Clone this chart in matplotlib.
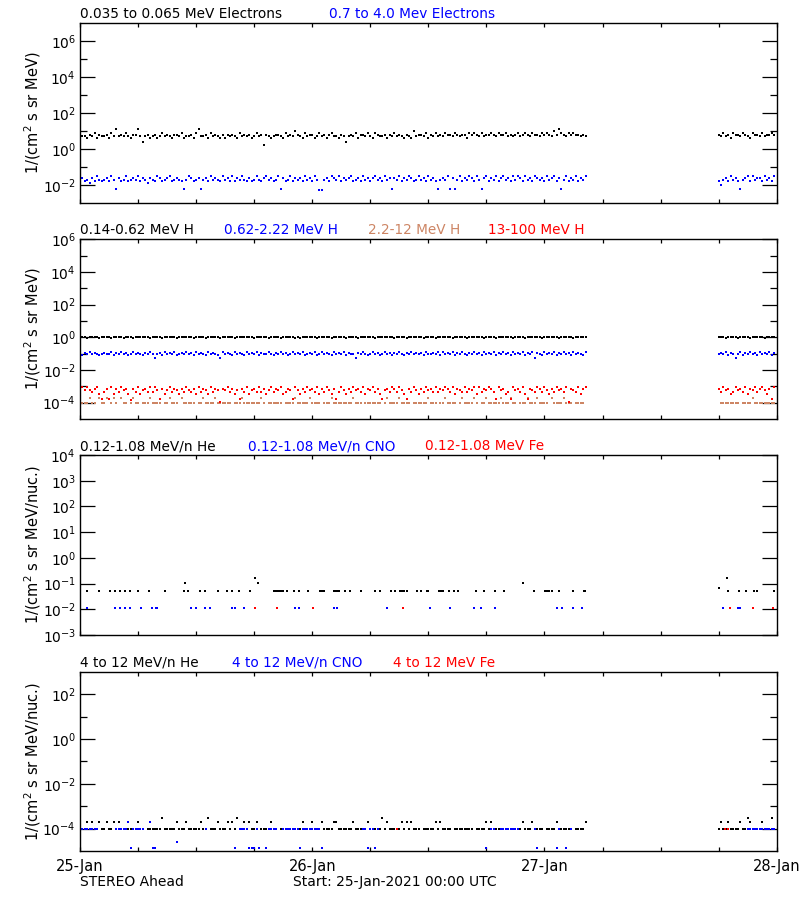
import numpy as np
import matplotlib
matplotlib.use("Agg")
import matplotlib.pyplot as plt
from matplotlib.ticker import FixedLocator, FixedFormatter, NullFormatter

# ---------------- data (hours since 25-Jan-2021 00:00 UTC) ----------------
CADENCE_H = 0.25          # 15-minute samples
SEG1_START_H = 0.0        # first data segment
SEG2_START_H = 66.0       # data resumes after the gap on 27-Jan

# Panel 1 : electrons.  Each digit is a level index into the level table.
e_lo_levels = [1.58, 2.0, 2.5, 3.2, 4.0, 5.0, 6.3, 7.9, 10.0, 12.6]
e_lo_seg1 = ("655465746556475956575466952564"
             "564575654665745564795564756546"
             "465654756564575606545665475658"
             "654756645756467554652565746657"
             "547655646575654654856657465756"
             "576657656647676575667657667565"
             "675676576657676586976576766565")
e_lo_seg2 = "657564766576547665756676"

e_hi_levels = [0.0040, 0.0050, 0.0063, 0.0079, 0.0100, 0.0126, 0.0158, 0.0200, 0.0251, 0.0316]
e_hi_seg1 = ("786758697678697286796787968758"
             "769867896787627986782786978769"
             "786968797686797689786792867968"
             "786978697117869879687896786978"
             "689786978287968798679786978627"
             "879282796879869728968796897869"
             "798697869878697896827968796879")
e_hi_seg2 = "647869786278969788697869"

# Panel 2 : protons
h1_levels = [0.63, 0.69, 0.76, 0.83, 0.91, 1.00, 1.10, 1.20, 1.32, 1.45]
h1_seg1 = ("565455654565546555456545655654"
           "556545655645655564556545565546"
           "556545655565465565455654565564"
           "545655654565554655654565545656"
           "554565565645565455655645565456"
           "565546556545655564565546555654"
           "565545656554565565465565455655")
h1_seg2 = "565455654565546555645655"

h2_levels = [0.056, 0.063, 0.071, 0.079, 0.089, 0.100, 0.112, 0.126, 0.141, 0.158]
h2_seg1 = ("536475643565473657463574653647"
           "504637564735647563746537465307"
           "465374653756473654753657463574"
           "647356473574653746573645064753"
           "574635746365743657464637546573"
           "746573647536475637465736475637"
           "465736470653746573647563746537")
h2_seg2 = "465736405736475637465736"

h3_levels = [np.nan, 1.0e-4, 2.0e-4]            # 0 = no count
h3_seg1 = ("111121102112012102110121101112"
           "111101121110211111011211112111"
           "111011121111111210111111011112"
           "111112111101112111111112111011"
           "111110121111211110111111211101"
           "121111012111121011211111211121"
           "101112111211110211112111011110")
h3_seg2 = "011111111011112111111111"

h4_levels = [1.12e-4, 1.41e-4, 1.78e-4, 2.24e-4, 2.82e-4,
             3.55e-4, 4.47e-4, 5.62e-4, 7.08e-4, 8.91e-4]
h4_seg1 = ("897976895268295869785186957869"
           "697285796875869768596875968708"
           "796857286957869685796879568729"
           "758697869586975826975869786958"
           "796852786986975286975869786968"
           "798695876968795968798629785629"
           "786952876986975869786908769589")
h4_seg2 = "869785697869587968975829"

# Panel 3 : 0.12-1.08 MeV/n heavy ions (sparse counts)
he3_hours = [0.76, 2.0, 3.1, 3.6, 4.1, 4.7, 5.2, 6.0, 7.1, 8.8, 10.7, 10.8, 11.2, 12.4,
             12.9, 14.3, 15.2, 15.7, 16.4, 17.6, 18.1, 18.4, 20.0, 20.2, 20.4, 20.6,
             20.8, 21.0, 21.4, 22.1, 22.6, 23.6, 24.8, 25.0, 25.2, 26.2, 26.4, 26.6,
             26.8, 27.4, 27.9, 29.0, 30.5, 31.0, 32.1, 32.6, 33.1, 33.3, 33.5, 33.8,
             34.8, 35.2, 35.9, 36.0, 37.1, 37.3, 37.5, 38.1, 38.6, 39.1, 40.9, 41.7,
             42.9, 43.8, 45.8, 46.9, 48.1, 48.3, 48.5, 48.8, 49.5, 51.0, 52.1, 52.2,
             66.0, 66.9, 67.0, 68.1, 68.8, 69.7, 70.0, 71.7]
he3_vals = [0.052, 0.052, 0.052, 0.052, 0.052, 0.052, 0.052, 0.052, 0.052, 0.052, 0.052, 0.11, 0.052, 0.052,
            0.052, 0.052, 0.052, 0.052, 0.052, 0.052, 0.16, 0.11, 0.052, 0.052, 0.052, 0.052,
            0.052, 0.052, 0.052, 0.052, 0.052, 0.052, 0.052, 0.052, 0.052, 0.052, 0.052, 0.052,
            0.052, 0.052, 0.052, 0.052, 0.052, 0.052, 0.052, 0.052, 0.052, 0.052, 0.052, 0.052,
            0.052, 0.052, 0.052, 0.052, 0.052, 0.052, 0.052, 0.052, 0.052, 0.052, 0.052, 0.052,
            0.052, 0.052, 0.11, 0.052, 0.052, 0.052, 0.052, 0.052, 0.052, 0.052, 0.052, 0.052,
            0.065, 0.16, 0.052, 0.052, 0.052, 0.052, 0.052, 0.052]
cno3_hours = [0.76, 3.6, 4.1, 4.7, 5.2, 6.3, 7.4, 7.9, 8.0, 11.5, 12.0, 12.9, 13.4, 15.7,
              16.0, 16.9, 22.2, 22.6, 26.2, 26.6, 31.7, 36.2, 38.2, 40.7, 41.4, 42.9,
              49.3, 49.8, 51.0, 51.9, 66.4, 68.0, 68.2]
cno3_vals = [0.011] * len(cno3_hours)
fe3_hours = [18.1, 20.4, 24.1, 33.4, 67.2, 69.6, 71.6]
fe3_vals = [0.011] * len(fe3_hours)

# Panel 4 : 4-12 MeV/n heavy ions
he4_levels = [np.nan, 1.0e-4, 2.0e-4, 3.0e-4]
he4_seg1 = ("111212112112112121111111211011"
            "111131111121112111112103111211"
            "121213112121120111121101111111"
            "112111211121111221111112111112"
            "111113121111121212111011111212"
            "111101111111101111212111111111"
            "111211121111011112111111011112")
he4_seg2 = "121121111211321111211131"
cno4_levels = [np.nan, 1.0e-4, 2.0e-4, np.nan, 1.3e-5, 2.5e-5]
cno4_seg1 = ("011111110000000111112411111002"
             "440000000050000000000010000000"
             "000040111144414004111100111111"
             "141111111140000000000000000114"
             "114100000000000000000000000000"
             "000000000000000000401100111111"
             "110000001400000004100401000000")
cno4_seg2 = "000000000000111111111111"
fe4_hours = [32.8, 66.7, 67.0]
fe4_vals = [1.0e-4, 1.0e-4, 1.0e-4]

day_labels = ["25-Jan", "26-Jan", "27-Jan", "28-Jan"]

SIENNA = "#CD8564"

# ---------------- helpers ----------------
def series(seg1, seg2, levels):
    t = np.concatenate([SEG1_START_H + CADENCE_H * np.arange(len(seg1)),
                        SEG2_START_H + CADENCE_H * np.arange(len(seg2))])
    v = np.array([levels[int(c)] for c in seg1 + seg2], dtype=float)
    return t, v


def dots(ax, t, v, color, ms=2.0):
    ax.plot(t, v, ls="none", marker="s", ms=ms, mew=0, color=color)


fig = plt.figure(figsize=(8, 9), dpi=100)
W, H = 800.0, 900.0


def fx(x):
    return x / W


def fy(y):
    return 1 - y / H


def sup(e):
    return r"$\mathregular{10^{%d}}$" % e


panel_px = [(23, 203), (239.3, 419), (455, 635), (671.7, 851)]
ylims = [(1e-3, 1e7), (1e-5, 1e6), (1e-3, 1e4), (1e-5, 1e3)]
ymaj = [[-2, 0, 2, 4, 6], [-4, -2, 0, 2, 4, 6], [-3, -2, -1, 0, 1, 2, 3, 4], [-4, -2, 0, 2]]
ymin = [[-1, 1, 3, 5], [-3, -1, 1, 3, 5], [], [-3, -1, 1]]
ylabels = [r"1/(cm$^2$ s sr MeV)", r"1/(cm$^2$ s sr MeV)",
           r"1/(cm$^2$ s sr MeV/nuc.)", r"1/(cm$^2$ s sr MeV/nuc.)"]

axes = []
for i, (top, bot) in enumerate(panel_px):
    ax = fig.add_axes([fx(80), fy(bot), (776.7 - 80) / W, (bot - top) / H])
    ax.set_yscale("log")
    ax.set_xlim(0, 72)
    ax.set_ylim(*ylims[i])
    ax.yaxis.set_major_locator(FixedLocator([10.0 ** e for e in ymaj[i]]))
    ax.yaxis.set_major_formatter(FixedFormatter([sup(e) for e in ymaj[i]]))
    ax.yaxis.set_minor_locator(FixedLocator([10.0 ** e for e in ymin[i]]))
    ax.yaxis.set_minor_formatter(NullFormatter())
    ax.xaxis.set_major_locator(FixedLocator([0, 24, 48, 72]))
    ax.xaxis.set_minor_locator(FixedLocator([h for h in range(6, 72, 6) if h % 24]))
    ax.tick_params(axis="y", which="major", direction="in", length=11, width=0.9,
                   left=True, right=True, labelsize=10, pad=3)
    ax.tick_params(axis="y", which="minor", direction="in", length=5, width=0.9,
                   left=True, right=True)
    ax.tick_params(axis="x", which="both", direction="in", length=3, width=0.9,
                   top=True, bottom=True, labelbottom=(i == 3), labelsize=10.5, pad=6)
    for sp in ax.spines.values():
        sp.set_linewidth(1.0)
    if i == 3:
        ax.set_xticklabels(day_labels)
    fig.text(fx(33), fy((top + bot) / 2), ylabels[i], rotation=90, ha="center",
             va="center", fontsize=10.5)
    axes.append(ax)

# Panel 1
t, v = series(e_lo_seg1, e_lo_seg2, e_lo_levels)
dots(axes[0], t, v, "black")
t, v = series(e_hi_seg1, e_hi_seg2, e_hi_levels)
dots(axes[0], t, v, "blue")

# Panel 2
t, v = series(h1_seg1, h1_seg2, h1_levels)
dots(axes[1], t, v, "black")
t, v = series(h2_seg1, h2_seg2, h2_levels)
dots(axes[1], t, v, "blue")
t, v = series(h3_seg1, h3_seg2, h3_levels)
dots(axes[1], t, v, SIENNA, ms=1.8)
t, v = series(h4_seg1, h4_seg2, h4_levels)
dots(axes[1], t, v, "red")

# Panel 3
dots(axes[2], he3_hours, he3_vals, "black", ms=1.8)
dots(axes[2], cno3_hours, cno3_vals, "blue", ms=1.8)
dots(axes[2], fe3_hours, fe3_vals, "red", ms=1.8)

# Panel 4
t, v = series(he4_seg1, he4_seg2, he4_levels)
dots(axes[3], t, v, "black", ms=1.7)
t, v = series(cno4_seg1, cno4_seg2, cno4_levels)
dots(axes[3], t, v, "blue", ms=1.7)
dots(axes[3], fe4_hours, fe4_vals, "red", ms=1.7)

# Titles above panels
titles = [
    (18.5, [(80, "0.035 to 0.065 MeV Electrons", "black"),
            (329, "0.7 to 4.0 Mev Electrons", "blue")]),
    (234.3, [(80, "0.14-0.62 MeV H", "black"), (224, "0.62-2.22 MeV H", "blue"),
             (368, "2.2-12 MeV H", SIENNA), (488, "13-100 MeV H", "red")]),
    (450, [(80, "0.12-1.08 MeV/n He", "black"), (248, "0.12-1.08 MeV/n CNO", "blue"),
           (425, "0.12-1.08 MeV Fe", "red")]),
    (666.7, [(80, "4 to 12 MeV/n He", "black"), (232, "4 to 12 MeV/n CNO", "blue"),
             (393, "4 to 12 MeV Fe", "red")]),
]
for ybase, items in titles:
    for x, s, c in items:
        fig.text(fx(x), fy(ybase), s, color=c, fontsize=9.8, ha="left", va="baseline")

fig.text(fx(80), fy(886), "STEREO Ahead", fontsize=10, ha="left", va="baseline")
fig.text(fx(293), fy(886), "Start: 25-Jan-2021 00:00 UTC", fontsize=10, ha="left",
         va="baseline")

fig.savefig("out.png", dpi=100, facecolor="white")
